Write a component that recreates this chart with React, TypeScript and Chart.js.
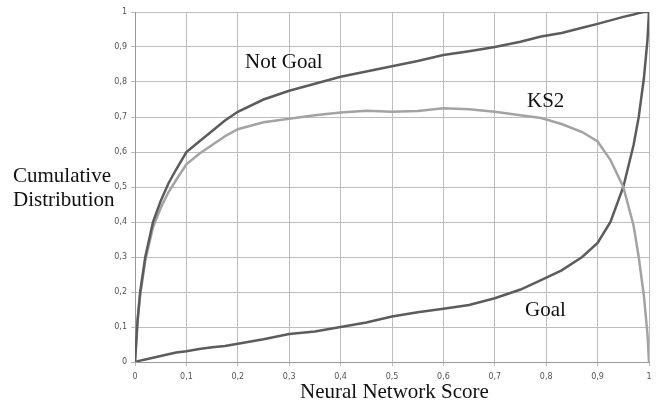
import React, { useEffect, useRef } from "react";
import { Chart, registerables } from "chart.js";

Chart.register(...registerables);

const scores = [0, 0.005, 0.01, 0.02, 0.035, 0.05, 0.065, 0.08, 0.1, 0.125, 0.15, 0.175, 0.2, 0.25, 0.3, 0.35, 0.4, 0.45, 0.5, 0.55, 0.6, 0.65, 0.7, 0.75, 0.79, 0.83, 0.87, 0.9, 0.925, 0.95, 0.97, 0.98, 0.99, 0.997, 1];

const notGoal = [0, 0.12, 0.2, 0.3, 0.4, 0.46, 0.51, 0.55, 0.6, 0.63, 0.66, 0.69, 0.715, 0.75, 0.775, 0.795, 0.815, 0.83, 0.845, 0.86, 0.877, 0.888, 0.9, 0.915, 0.93, 0.94, 0.955, 0.966, 0.976, 0.986, 0.993, 0.997, 1, 1, 1];

const goal = [0, 0.002, 0.004, 0.007, 0.012, 0.017, 0.022, 0.027, 0.031, 0.037, 0.042, 0.046, 0.052, 0.065, 0.08, 0.087, 0.1, 0.113, 0.13, 0.142, 0.152, 0.163, 0.182, 0.207, 0.234, 0.262, 0.3, 0.34, 0.4, 0.5, 0.62, 0.7, 0.81, 0.92, 1];

const ks2 = [0, 0.115, 0.19, 0.29, 0.385, 0.44, 0.485, 0.52, 0.565, 0.595, 0.62, 0.645, 0.665, 0.685, 0.695, 0.705, 0.713, 0.718, 0.715, 0.717, 0.725, 0.722, 0.715, 0.705, 0.697, 0.68, 0.657, 0.63, 0.577, 0.5, 0.39, 0.3, 0.19, 0.08, 0];

const labels = [
  { text: "Not Goal", x: 245, y: 62 },
  { text: "KS2", x: 527, y: 101 },
  { text: "Goal", x: 525, y: 310 },
  { text: "Cumulative", x: 13, y: 176 },
  { text: "Distribution", x: 13, y: 200 },
  { text: "Neural Network Score", x: 300, y: 392 },
];

const fmt = (v: number) => String(Math.round(v * 10) / 10).replace(".", ",");

export default function App() {
  const ref = useRef<HTMLCanvasElement | null>(null);
  useEffect(() => {
    document.body.style.margin = "0";
    const canvas = ref.current!;
    const pts = (arr: number[]) => scores.map((s, i) => ({ x: s, y: arr[i] }));
    const textPlugin = {
      id: "texts",
      afterDraw(chart: any) {
        const ctx = chart.ctx;
        ctx.save();
        ctx.fillStyle = "#111";
        ctx.font = "21px 'Liberation Serif', 'DejaVu Serif', serif";
        ctx.textBaseline = "middle";
        ctx.textAlign = "left";
        labels.forEach((l) => ctx.fillText(l.text, l.x, l.y));
        ctx.restore();
      },
    };
    const chart = new Chart(canvas, {
      type: "line",
      data: {
        datasets: [
          { label: "Not Goal", data: pts(notGoal), borderColor: "#5c5c5c", borderWidth: 2.5, pointRadius: 0, tension: 0 },
          { label: "KS2", data: pts(ks2), borderColor: "#a3a3a3", borderWidth: 2.5, pointRadius: 0, tension: 0 },
          { label: "Goal", data: pts(goal), borderColor: "#5c5c5c", borderWidth: 2.5, pointRadius: 0, tension: 0 },
        ],
      },
      options: {
        animation: false,
        responsive: false,
        layout: { padding: { top: 12, right: 15, left: 0, bottom: 0 } },
        plugins: { legend: { display: false }, tooltip: { enabled: false } },
        scales: {
          x: {
            type: "linear",
            min: 0,
            max: 1,
            afterFit: (s: any) => { s.height = 43; },
            ticks: { stepSize: 0.1, callback: (v: any) => fmt(Number(v)), font: { size: 8, family: "'DejaVu Sans', sans-serif" }, color: "#555", padding: 6, maxRotation: 0 },
            grid: { color: "#bdbdbd", lineWidth: 1, tickLength: 4 },
            border: { color: "#9a9a9a" },
          },
          y: {
            min: 0,
            max: 1,
            afterFit: (s: any) => { s.width = 135; },
            ticks: { stepSize: 0.1, callback: (v: any) => fmt(Number(v)), font: { size: 8, family: "'DejaVu Sans', sans-serif" }, color: "#555", padding: 4 },
            grid: { color: "#bdbdbd", lineWidth: 1, tickLength: 4 },
            border: { color: "#9a9a9a" },
          },
        },
      },
      plugins: [textPlugin],
    } as any);
    return () => chart.destroy();
  }, []);
  return <canvas ref={ref} width={664} height={405} style={{ display: "block" }} />;
}
